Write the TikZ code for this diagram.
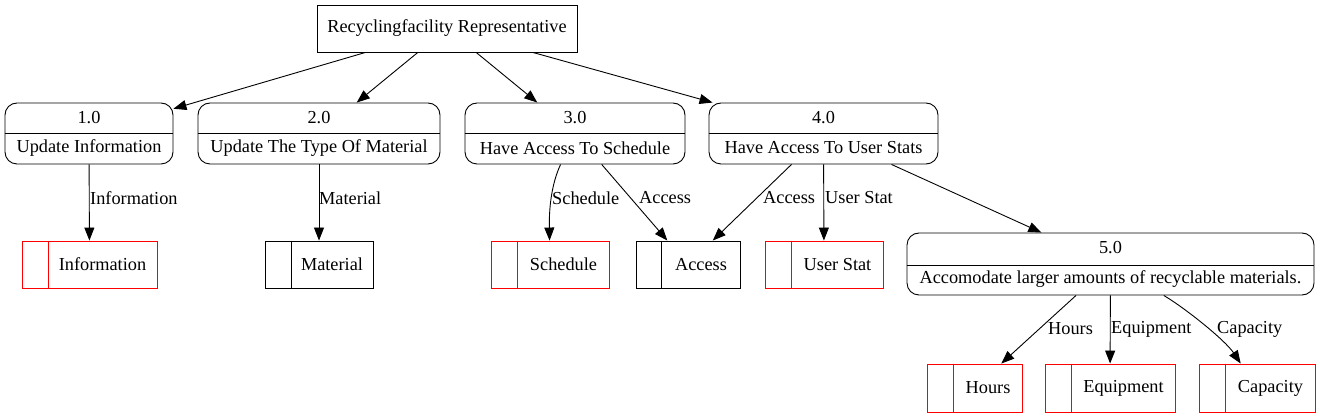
\documentclass[tikz,border=0pt]{standalone}
\usepackage{fontspec}
\setmainfont{Liberation Serif}
\usetikzlibrary{arrows.meta}
\begin{document}
\begin{tikzpicture}[x=1pt,y=-1pt,
  txt/.style={inner sep=0pt, font=\fontsize{18.3}{22}\selectfont},
  elab/.style={txt, anchor=west},
  entity/.style={draw, line width=0.9pt, minimum height=47pt},
  proc/.style={draw, line width=0.9pt, rounded corners=12pt, minimum height=61pt},
  store/.style={draw=red, line width=0.9pt, minimum height=47pt},
  bstore/.style={draw=black, line width=0.9pt, minimum height=47pt},
  flow/.style={-{Triangle[length=13pt,width=10pt]}, line width=0.9pt}]
\useasboundingbox (0,0) rectangle (1320,419);

% external entity
\node[entity, minimum width=260pt] (top) at (447,28.5) {};
\node[txt] (toptxt) at (447,28.5) {Recyclingfacility Representative};

% processes
\node[proc, minimum width=168pt] (p1) at (89,133.5) {};
\draw[line width=0.9pt] (p1.west) -- (p1.east);
\node[txt] (p1a) at (89,118) {1.0};
\node[txt] (p1b) at (89,148) {Update Information};

\node[proc, minimum width=242pt] (p2) at (319,133.5) {};
\draw[line width=0.9pt] (p2.west) -- (p2.east);
\node[txt] (p2a) at (319,118) {2.0};
\node[txt] (p2b) at (319,148) {Update The Type Of Material};

\node[proc, minimum width=220pt] (p3) at (575,133.5) {};
\draw[line width=0.9pt] (p3.west) -- (p3.east);
\node[txt] (p3a) at (575,118) {3.0};
\node[txt] (p3b) at (575,148) {Have Access To Schedule};

\node[proc, minimum width=229pt] (p4) at (823.5,133.5) {};
\draw[line width=0.9pt] (p4.west) -- (p4.east);
\node[txt] (p4a) at (823.5,118) {4.0};
\node[txt] (p4b) at (823.5,148) {Have Access To User Stats};

\node[proc, minimum width=407pt, minimum height=62pt] (p5) at (1110.5,264) {};
\draw[line width=0.9pt] ([yshift=-1pt]p5.west) -- ([yshift=-1pt]p5.east);
\node[txt] (p5a) at (1110.5,248) {5.0};
\node[txt] (p5b) at (1110.5,279) {Accomodate larger amounts of recyclable materials.};

% data stores
\node[store, minimum width=135pt] (s1) at (89.5,264.5) {};
\draw[red, line width=0.9pt] ([xshift=26.5pt]s1.north west) -- ([xshift=26.5pt]s1.south west);
\node[txt] (s1t) at (102.5,264.5) {Information};

\node[bstore, minimum width=108pt] (s2) at (319,264.5) {};
\draw[line width=0.9pt] ([xshift=26.5pt]s2.north west) -- ([xshift=26.5pt]s2.south west);
\node[txt] (s2t) at (332,264.5) {Material};

\node[store, minimum width=118pt] (s3) at (550,264.5) {};
\draw[red, line width=0.9pt] ([xshift=27pt]s3.north west) -- ([xshift=27pt]s3.south west);
\node[txt] (s3t) at (563.5,264.5) {Schedule};

\node[bstore, minimum width=104pt] (s4) at (688,264.5) {};
\draw[line width=0.9pt] ([xshift=26pt]s4.north west) -- ([xshift=26pt]s4.south west);
\node[txt] (s4t) at (701,264.5) {Access};

\node[store, minimum width=118pt] (s5) at (824,264.5) {};
\draw[red, line width=0.9pt] ([xshift=27pt]s5.north west) -- ([xshift=27pt]s5.south west);
\node[txt] (s5t) at (837.5,264.5) {User Stat};

\node[store, minimum width=95pt, minimum height=48pt] (s6) at (974.5,388) {};
\draw[red, line width=0.9pt] ([xshift=27pt]s6.north west) -- ([xshift=27pt]s6.south west);
\node[txt] (s6t) at (988,388) {Hours};

\node[store, minimum width=130pt, minimum height=48pt] (s7) at (1110,388) {};
\draw[red, line width=0.9pt] ([xshift=27pt]s7.north west) -- ([xshift=27pt]s7.south west);
\node[txt] (s7t) at (1123.5,388) {Equipment};

\node[store, minimum width=116pt, minimum height=48pt] (s8) at (1257,388) {};
\draw[red, line width=0.9pt] ([xshift=27pt]s8.north west) -- ([xshift=27pt]s8.south west);
\node[txt] (s8t) at (1270.5,388) {Capacity};

% flows
\draw[flow] (top) -- (p1);
\draw[flow] (top) -- (p2);
\draw[flow] (top) -- (p3);
\draw[flow] (top) -- (p4);

\draw[flow] (p1) -- (s1);
\node[elab] (l1) at (90,198) {Information};
\draw[flow] (p2) -- (s2);
\node[elab] (l2) at (319,198) {Material};
\draw[flow] (p3) .. controls (551,185) and (549,210) .. (s3);
\node[elab] (l3) at (552,198) {Schedule};
\draw[flow] (p3) -- (s4);
\node[elab] (l4) at (639,198) {Access};
\draw[flow] (p4) -- (s4);
\node[elab] (l5) at (763,198) {Access};
\draw[flow] (p4) -- (s5);
\node[elab] (l6) at (825,198) {User Stat};
\draw[flow] (p4) -- (p5);

\draw[flow] (p5) -- (s6);
\node[elab] (l7) at (1048,329) {Hours};
\draw[flow] (p5) -- (s7);
\node[elab] (l8) at (1111,329) {Equipment};
\draw[flow] (p5) .. controls (1185,308) and (1225,340) .. (s8);
\node[elab] (l9) at (1217,329) {Capacity};
\end{tikzpicture}
\end{document}
